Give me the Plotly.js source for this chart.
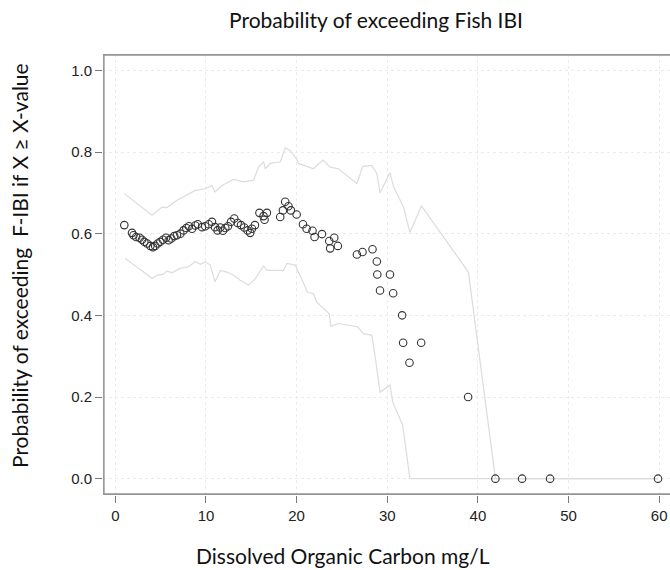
<!DOCTYPE html>
<html>
<head>
<meta charset="utf-8">
<script src="https://cdn.plot.ly/plotly-3.0.1.min.js"></script>
<style>html,body{margin:0;padding:0;background:#fff;}#chart{width:670px;height:570px;}</style>
</head>
<body>
<div id="chart"></div>
<script>
// Observed probability points
var pointX = [0.99,1.84,2.0,2.3,2.68,2.94,3.2,3.5,3.86,4.15,4.4,4.67,4.96,5.26,5.6,5.88,6.17,6.5,6.8,7.17,7.53,7.83,8.12,8.46,8.82,9.1,9.56,9.92,10.3,10.66,11.0,11.28,11.58,11.87,12.13,12.43,12.76,13.12,13.49,13.86,14.22,14.59,14.88,15.07,15.4,15.9,16.35,16.46,16.72,18.19,18.49,18.74,19.1,19.37,20.0,20.7,21.1,21.75,21.98,22.8,23.6,23.7,24.15,24.55,26.65,27.27,28.37,28.85,28.9,29.2,30.3,30.65,31.64,31.75,32.45,33.74,38.92,41.93,44.87,47.96,59.87];
var pointY = [0.621,0.602,0.596,0.592,0.590,0.585,0.580,0.576,0.570,0.567,0.570,0.576,0.580,0.585,0.590,0.584,0.588,0.594,0.596,0.600,0.608,0.614,0.618,0.612,0.620,0.623,0.616,0.618,0.623,0.629,0.616,0.608,0.615,0.607,0.614,0.618,0.629,0.637,0.626,0.621,0.615,0.608,0.602,0.612,0.621,0.651,0.643,0.634,0.651,0.641,0.657,0.678,0.667,0.657,0.647,0.623,0.612,0.607,0.592,0.599,0.582,0.564,0.590,0.570,0.549,0.555,0.562,0.532,0.500,0.461,0.500,0.454,0.400,0.333,0.284,0.333,0.200,0,0,0,0];

// Upper confidence band
var upperX = [1.0,4.05,5.15,5.7,6.8,7.9,8.82,9.92,10.66,11.0,11.76,13.04,14.15,15.25,15.8,16.35,16.54,17.1,18.2,18.74,19.3,20.03,20.2,21.86,22.9,23.7,24.6,26.65,27.3,28.3,28.85,29.2,30.3,30.7,31.8,32.5,33.77,38.95,41.93,59.87];
var upperY = [0.698,0.645,0.665,0.664,0.682,0.694,0.706,0.710,0.718,0.702,0.718,0.733,0.727,0.731,0.763,0.776,0.759,0.772,0.776,0.810,0.804,0.781,0.772,0.759,0.780,0.763,0.759,0.723,0.765,0.767,0.747,0.700,0.749,0.714,0.665,0.603,0.668,0.506,0,0];

// Lower confidence band
var lowerX = [1.1,2.0,2.57,3.12,4.05,4.6,5.33,5.7,6.25,7.17,8.08,8.82,9.37,9.92,10.47,11.0,11.58,12.3,13.04,13.78,14.7,15.44,16.35,16.72,18.55,18.93,19.85,20.95,21.14,21.86,22.2,23.6,23.78,24.6,26.7,27.4,28.3,28.67,29.0,29.2,30.3,30.6,31.7,32.5,59.87];
var lowerY = [0.539,0.523,0.515,0.506,0.490,0.498,0.501,0.509,0.504,0.515,0.519,0.532,0.525,0.531,0.523,0.482,0.510,0.506,0.498,0.486,0.474,0.490,0.521,0.510,0.510,0.527,0.523,0.470,0.457,0.453,0.433,0.404,0.373,0.380,0.372,0.355,0.351,0.298,0.241,0.212,0.229,0.188,0.131,0,0];

var xTicks = [0,10,20,30,40,50,60];
var yTicks = [0.0,0.2,0.4,0.6,0.8,1.0];

var bandStyle = {color:'#dcdcdc', width:1.2};
var traces = [
  {x:upperX, y:upperY, mode:'lines', line:bandStyle, hoverinfo:'skip', showlegend:false},
  {x:lowerX, y:lowerY, mode:'lines', line:bandStyle, hoverinfo:'skip', showlegend:false},
  {x:pointX, y:pointY, mode:'markers', showlegend:false,
   marker:{symbol:'circle-open', size:7.5, color:'#333333', line:{width:1.1, color:'#333333'}}}
];

var titleFont = {family:'Lato, "Open Sans", sans-serif', size:21, color:'#111111'};
var tickFont = {family:'"Liberation Sans", Arial, sans-serif', size:15, color:'#222222'};
var frameLine = {color:'#959595', width:1.6};

var layout = {
  width:670, height:570,
  margin:{l:103, r:0, t:54, b:75},
  paper_bgcolor:'#ffffff', plot_bgcolor:'#ffffff',
  title:{text:'Probability of exceeding Fish IBI', font:titleFont, x:376/670, xref:'container', xanchor:'center', y:1-21/570, yref:'container', yanchor:'middle'},
  xaxis:{range:[-1.36,61.19], tickvals:xTicks, ticktext:xTicks.map(String), ticks:'outside', ticklen:7, tickcolor:'#777777',
         showline:false, zeroline:false,
         showgrid:true, gridcolor:'#ebebeb', gridwidth:1, tickfont:tickFont},
  yaxis:{range:[-0.04,1.04], tickvals:yTicks, ticktext:yTicks.map(function(v){return v.toFixed(1);}), ticks:'outside', ticklen:7, tickcolor:'#777777',
         showline:false, zeroline:false,
         showgrid:true, gridcolor:'#ebebeb', gridwidth:1, tickfont:tickFont},
  shapes:[
    {type:'line', xref:'paper', yref:'paper', x0:0.0015, x1:0.0015, y0:0, y1:1, line:frameLine},
    {type:'line', xref:'paper', yref:'paper', x0:0, x1:1, y0:0.002, y1:0.002, line:frameLine},
    {type:'line', xref:'paper', yref:'paper', x0:0, x1:1, y0:0.998, y1:0.998, line:frameLine}
  ],
  annotations:[
    {text:'Dissolved Organic Carbon mg/L', xref:'paper', yref:'paper', x:(343-103)/567, y:-(555-495)/441, xanchor:'center', yanchor:'middle', showarrow:false, font:titleFont},
    {text:'Probability of exceeding  F-IBI if X \u2265 X-value', xref:'paper', yref:'paper', x:-(103-19)/567, y:(495-266)/441, xanchor:'center', yanchor:'middle', textangle:-90, showarrow:false, font:titleFont}
  ]
};

Plotly.newPlot('chart', traces, layout, {displayModeBar:false}).then(function(gd){
  return Plotly.relayout(gd, {'xaxis.griddash':'dot', 'yaxis.griddash':'dot'});
});
</script>
</body>
</html>
